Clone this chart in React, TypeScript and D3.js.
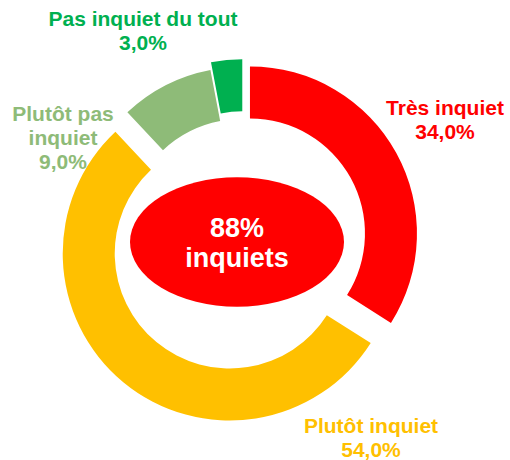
import React, { useEffect, useRef } from "react";
import * as d3 from "d3";

// data
const categories = ["Très inquiet", "Plutôt inquiet", "Plutôt pas inquiet", "Pas inquiet du tout"];
const values = [34, 54, 9, 3];
const labelLines = [["Très inquiet"], ["Plutôt inquiet"], ["Plutôt pas", "inquiet"], ["Pas inquiet du tout"]];
const centerText = ["88%", "inquiets"];

// style
const colors = ["#FF0000", "#FFC000", "#8EBB78", "#00B050"];
const explode = [7.6, 21.3, 3.5, 10.8];
// baseline of first label line, text centred
const labelAt = [[445, 115], [371, 433], [63, 121], [143, 26]];

const W = 510;
const H = 460;
const cx = 243.3;
const cy = 237.1;
const outerR = 167;
const innerR = 115;

const fr = d3.formatLocale({ decimal: ",", thousands: " ", grouping: [3], currency: ["", "€"] });
const fmt = (v) => fr.format(".1f")(v) + "%";

export default function App() {
  const ref = useRef(null);

  useEffect(() => {
    const svg = d3.select(ref.current);
    svg.selectAll("*").remove();

    const pie = d3.pie().sort(null).value((d) => d)(values);
    const arc = d3.arc().innerRadius(innerR).outerRadius(outerR);

    const g = svg.append("g").attr("transform", `translate(${cx},${cy})`);

    g.selectAll("path")
      .data(pie)
      .enter()
      .append("path")
      .attr("d", arc)
      .attr("fill", (d, i) => colors[i])
      .attr("transform", (d, i) => {
        const a = (d.startAngle + d.endAngle) / 2;
        return `translate(${Math.sin(a) * explode[i]},${-Math.cos(a) * explode[i]})`;
      });

    // centre bubble
    svg.append("ellipse")
      .attr("cx", 237)
      .attr("cy", 242)
      .attr("rx", 107)
      .attr("ry", 64.7)
      .attr("fill", "#FF0000");

    const mid = svg.append("text")
      .attr("text-anchor", "middle")
      .attr("font-family", "'Liberation Sans', Arial, sans-serif")
      .attr("font-weight", "bold")
      .attr("font-size", 27)
      .attr("fill", "#fff");
    centerText.forEach((t, i) => {
      mid.append("tspan").attr("x", 237).attr("y", 236.7 + i * 30).text(t);
    });

    // slice labels
    categories.forEach((c, i) => {
      const t = svg.append("text")
        .attr("text-anchor", "middle")
        .attr("font-family", "'Liberation Sans', Arial, sans-serif")
        .attr("font-weight", "bold")
        .attr("font-size", 21)
        .attr("fill", colors[i]);
      const lines = [...labelLines[i], fmt(values[i])];
      lines.forEach((l, j) => {
        t.append("tspan").attr("x", labelAt[i][0]).attr("y", labelAt[i][1] + j * 24).text(l);
      });
    });
  }, []);

  return (
    <svg
      ref={ref}
      width={W}
      height={H}
      style={{ position: "absolute", left: 0, top: 0, background: "#fff" }}
    />
  );
}
